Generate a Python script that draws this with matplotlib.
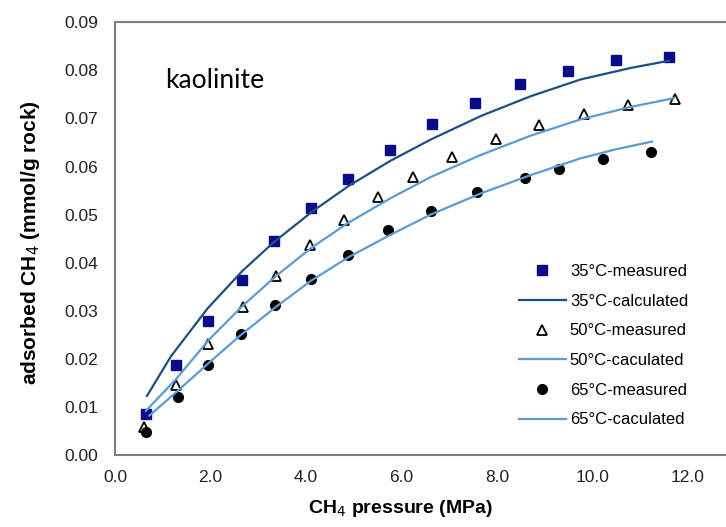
import matplotlib
matplotlib.use("Agg")
import matplotlib.pyplot as plt
from matplotlib.ticker import FormatStrFormatter

plt.rcParams['font.family'] = ['Liberation Sans', 'DejaVu Sans']

# measured points (pressure MPa, adsorbed mmol/g)
p35 = [0.65, 1.28, 1.94, 2.67, 3.33, 4.10, 4.88, 5.75, 6.63, 7.55, 8.48, 9.48, 10.50, 11.60]
q35 = [0.0085, 0.0187, 0.0279, 0.0364, 0.0446, 0.0513, 0.0575, 0.0634, 0.0688, 0.0733, 0.0771, 0.0798, 0.0821, 0.0828]
p50 = [0.61, 1.28, 1.95, 2.68, 3.38, 4.09, 4.80, 5.51, 6.24, 7.05, 7.99, 8.88, 9.82, 10.75, 11.73]
q50 = [0.0059, 0.0146, 0.0230, 0.0307, 0.0372, 0.0437, 0.0489, 0.0537, 0.0579, 0.0620, 0.0658, 0.0686, 0.0710, 0.0728, 0.0740]
p65 = [0.65, 1.31, 1.95, 2.64, 3.35, 4.10, 4.87, 5.71, 6.61, 7.59, 8.58, 9.30, 10.22, 11.23]
q65 = [0.0048, 0.0121, 0.0187, 0.0252, 0.0312, 0.0367, 0.0416, 0.0468, 0.0507, 0.0547, 0.0577, 0.0595, 0.0615, 0.0630]

# calculated curves
c35_p = [0.67, 1.17, 1.94, 2.67, 3.33, 4.14, 4.90, 5.77, 6.61, 7.66, 8.70, 9.75, 10.8, 11.6]
c35_q = [0.0123, 0.0205, 0.0305, 0.0383, 0.0443, 0.0507, 0.0560, 0.0612, 0.0656, 0.0705, 0.0746, 0.0781, 0.0805, 0.0820]
c50_p = [0.65, 1.28, 1.97, 2.67, 3.37, 4.10, 4.87, 5.77, 6.61, 7.66, 8.70, 9.75, 10.8, 11.7]
c50_q = [0.0092, 0.0158, 0.0240, 0.0310, 0.0372, 0.0430, 0.0482, 0.0534, 0.0578, 0.0624, 0.0664, 0.0698, 0.0724, 0.0742]
c65_p = [0.72, 1.31, 1.97, 2.64, 3.37, 4.10, 4.90, 5.77, 6.61, 7.66, 8.70, 9.75, 10.5, 11.25]
c65_q = [0.0082, 0.0133, 0.0192, 0.0250, 0.0308, 0.0362, 0.0412, 0.0458, 0.0500, 0.0544, 0.0582, 0.0617, 0.0636, 0.0652]

xticks = [0, 2, 4, 6, 8, 10, 12]
yticks = [0, 0.01, 0.02, 0.03, 0.04, 0.05, 0.06, 0.07, 0.08, 0.09]

fig = plt.figure(figsize=(7.26, 5.27), dpi=100)
ax = fig.add_axes([115/726, 72/527, 1 - 115/726 + 0.01, 432.7/527])

h1, = ax.plot(p35, q35, 's', color='#0b0b8a', markersize=7, linestyle='none')
h2, = ax.plot(c35_p, c35_q, color='#1f4e85', lw=1.6)
h3, = ax.plot(p50, q50, '^', mfc='white', mec='black', mew=1.3, markersize=6.5, linestyle='none')
h4, = ax.plot(c50_p, c50_q, color='#5b9bd5', lw=1.6)
h5, = ax.plot(p65, q65, 'o', color='black', markersize=7, linestyle='none')
h6, = ax.plot(c65_p, c65_q, color='#5b9bd5', lw=1.6)

ax.set_xlim(0, 12.95)
ax.set_ylim(0, 0.09)
ax.set_xticks(xticks)
ax.set_yticks(yticks)
ax.xaxis.set_major_formatter(FormatStrFormatter('%.1f'))
ax.yaxis.set_major_formatter(FormatStrFormatter('%.2f'))
ax.tick_params(length=0, labelsize=12.5, labelcolor='#222222')
ax.tick_params(axis='y', pad=12)
ax.tick_params(axis='x', pad=11)
for s in ['left', 'bottom', 'top']:
    ax.spines[s].set_color('#7f7f7f')
    ax.spines[s].set_linewidth(1.5)
ax.spines['right'].set_visible(False)

ax.set_xlabel('CH$_4$ pressure (MPa)', fontsize=14, fontweight='bold')
ax.xaxis.set_label_coords((400 - 115) / 618.3, -0.10)
ax.set_ylabel('adsorbed CH$_4$ (mmol/g rock)', fontsize=15, fontweight='bold')
ax.yaxis.set_label_coords(-0.118, 0.49)

fig.text(165/726, 1 - 80/527, 'kaolinite', fontsize=19, family=['Lato', 'DejaVu Sans'],
         va='center', ha='left')

leg = fig.legend([h1, h2, h3, h4, h5, h6],
                 ['35°C-measured', '35°C-calculated', '50°C-measured',
                  '50°C-caculated', '65°C-measured', '65°C-caculated'],
                 loc='upper left', bbox_to_anchor=(519/726, 1 - 264/527),
                 frameon=False, fontsize=12, handlelength=2.8, handletextpad=0.25,
                 labelspacing=0.88, borderpad=0, borderaxespad=0)

fig.savefig('out.png', dpi=100)
